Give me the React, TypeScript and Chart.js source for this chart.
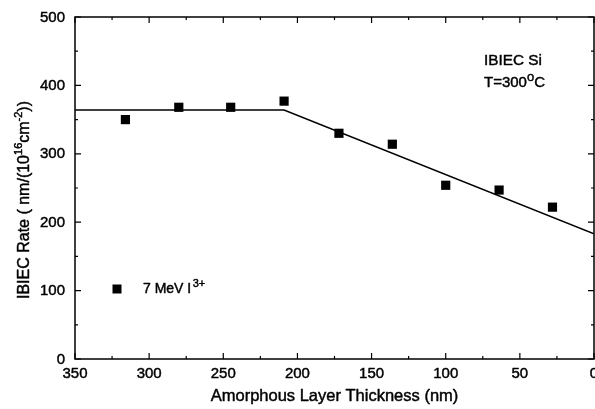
import React, { useEffect, useRef } from "react";
import { Chart, registerables } from "chart.js";

Chart.register(...registerables);

const FONT = "'Liberation Sans', Arial, Helvetica, sans-serif";
const TEXT_STROKE = 0.45;

// Data
const thickness = [316, 280, 245, 209, 172, 136, 100, 64, 28];
const rate = [350, 368, 368, 377, 330, 314, 254, 247, 222];
const fitX = [350, 209, 0];
const fitY = [364, 364, 183];

const xTicks = [0, 50, 100, 150, 200, 250, 300, 350];
const yTicks = [0, 100, 200, 300, 400, 500];

const xTitle = "Amorphous Layer Thickness (nm)";
const yTitle = [
  { t: "IBIEC Rate ( nm/(10" },
  { t: "16", sup: true },
  { t: "cm" },
  { t: "-2", sup: true },
  { t: "))" },
];
const legendLabel = [{ t: "7 MeV I" }, { t: "3+", sup: true }];
const note1 = [{ t: "IBIEC Si" }];
const note2 = [{ t: "T=300" }, { t: "o", sup: true }, { t: "C" }];

type Seg = { t: string; sup?: boolean };

function text(ctx: CanvasRenderingContext2D, s: string, x: number, y: number) {
  ctx.fillText(s, x, y);
  ctx.strokeText(s, x, y);
}

function drawRich(
  ctx: CanvasRenderingContext2D,
  segs: Seg[],
  x: number,
  y: number,
  size: number,
  align: "left" | "center",
  supRatio = 0.7,
  supGap = 0
) {
  const supSize = Math.round(size * supRatio);
  let total = 0;
  const widths = segs.map((s) => {
    ctx.font = `${s.sup ? supSize : size}px ${FONT}`;
    const w = ctx.measureText(s.t).width + (s.sup ? supGap : 0);
    total += w;
    return w;
  });
  let cx = align === "center" ? x - total / 2 : x;
  ctx.textBaseline = "middle";
  ctx.textAlign = "left";
  segs.forEach((s, i) => {
    ctx.font = `${s.sup ? supSize : size}px ${FONT}`;
    text(ctx, s.t, cx + (s.sup ? supGap : 0), s.sup ? y - size * 0.36 : y);
    cx += widths[i];
  });
}

const decorPlugin = {
  id: "decor",
  afterDraw(chart: any) {
    const ctx: CanvasRenderingContext2D = chart.ctx;
    const { left, right, top, bottom } = chart.chartArea;
    const xs = chart.scales.x;
    const ys = chart.scales.y;
    ctx.save();
    ctx.strokeStyle = "#000";
    ctx.fillStyle = "#000";
    ctx.lineWidth = 1.5;
    ctx.strokeRect(left, top, right - left, bottom - top);
    ctx.lineWidth = 1.2;
    ctx.beginPath();
    for (let v = 0; v <= 350; v += 25) {
      const len = v % 50 === 0 ? 6 : 3;
      const px = xs.getPixelForValue(v);
      ctx.moveTo(px, bottom);
      ctx.lineTo(px, bottom - len);
      ctx.moveTo(px, top);
      ctx.lineTo(px, top + len);
    }
    for (let v = 0; v <= 500; v += 50) {
      const len = v % 100 === 0 ? 6 : 3;
      const py = ys.getPixelForValue(v);
      ctx.moveTo(left, py);
      ctx.lineTo(left + len, py);
      ctx.moveTo(right, py);
      ctx.lineTo(right - len, py);
    }
    ctx.stroke();

    ctx.lineWidth = TEXT_STROKE;
    ctx.lineJoin = "round";

    // tick labels
    ctx.font = `15px ${FONT}`;
    ctx.textAlign = "center";
    ctx.textBaseline = "middle";
    xTicks.forEach((v) => {
      text(ctx, String(v), xs.getPixelForValue(v), bottom + 15);
    });
    ctx.textAlign = "right";
    yTicks.forEach((v) => {
      text(ctx, String(v), left - 10, ys.getPixelForValue(v) + 0.5);
    });

    // legend
    const lx = left + 42;
    const ly = bottom - 70;
    ctx.fillRect(lx - 4.5, ly - 4.5, 9, 9);
    drawRich(ctx, legendLabel, lx + 26, ly, 14, "left", 0.82, 1.5);

    // annotations
    drawRich(ctx, note1, right - 110, top + 44, 15.3, "left");
    drawRich(ctx, note2, right - 110, top + 66, 15, "left", 0.85);

    // axis titles
    ctx.font = `16.5px ${FONT}`;
    ctx.textAlign = "center";
    ctx.textBaseline = "middle";
    text(ctx, xTitle, (left + right) / 2, 396);

    ctx.translate(25, 200);
    ctx.rotate(-Math.PI / 2);
    drawRich(ctx, yTitle, 0, 0, 16, "center");
    ctx.restore();
  },
};

export default function App() {
  const ref = useRef<HTMLCanvasElement | null>(null);
  useEffect(() => {
    if (!ref.current) return;
    const chart = new Chart(ref.current, {
      type: "scatter",
      data: {
        datasets: [
          {
            type: "line",
            data: fitX.map((x, i) => ({ x, y: fitY[i] })),
            borderColor: "#000",
            borderWidth: 1.6,
            pointRadius: 0,
            fill: false,
            tension: 0,
          } as any,
          {
            data: thickness.map((x, i) => ({ x, y: rate[i] })),
            pointStyle: "rect",
            pointRadius: 6.5,
            backgroundColor: "#000",
            borderColor: "#000",
            borderWidth: 0,
          },
        ],
      },
      options: {
        responsive: false,
        animation: false,
        layout: { autoPadding: false, padding: { top: 17, left: 0, right: 1, bottom: 0 } },
        plugins: {
          legend: { display: false },
          tooltip: { enabled: false },
        },
        scales: {
          x: {
            type: "linear",
            reverse: true,
            min: 0,
            max: 350,
            afterBuildTicks: (s: any) => {
              s.ticks = xTicks.map((v) => ({ value: v }));
            },
            afterFit: (s: any) => {
              s.height = 50;
              s.paddingLeft = 0;
              s.paddingRight = 0;
            },
            grid: { display: false, drawTicks: false },
            border: { display: false },
            ticks: { display: false },
          },
          y: {
            type: "linear",
            min: 0,
            max: 500,
            afterBuildTicks: (s: any) => {
              s.ticks = yTicks.map((v) => ({ value: v }));
            },
            afterFit: (s: any) => {
              s.width = 75;
              s.paddingTop = 0;
              s.paddingBottom = 0;
            },
            grid: { display: false, drawTicks: false },
            border: { display: false },
            ticks: { display: false },
          },
        },
      },
      plugins: [decorPlugin],
    } as any);
    return () => chart.destroy();
  }, []);
  return (
    <div style={{ position: "fixed", left: 0, top: 0, width: 595, height: 409, background: "#fff" }}>
      <canvas ref={ref} width={595} height={409} style={{ display: "block" }} />
    </div>
  );
}
